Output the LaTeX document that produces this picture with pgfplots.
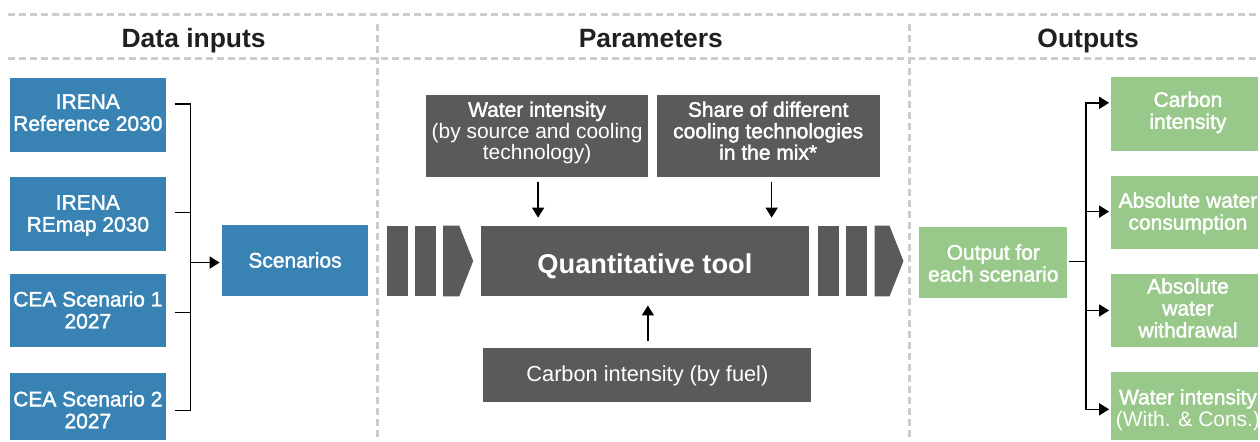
\documentclass[border=0pt]{standalone}
\usepackage{pgfplots}
\pgfplotsset{compat=1.18}
\usetikzlibrary{arrows.meta}
\usepackage{fontspec}
\setmainfont{Liberation Sans}
\newfontfamily\medfont[FakeBold=1.8]{Liberation Sans}
\definecolor{irblue}{RGB}{56,131,180}
\definecolor{irgray}{RGB}{88,90,91}
\definecolor{irgreen}{RGB}{153,201,138}
\definecolor{dashgray}{RGB}{205,205,205}
\definecolor{titlecol}{RGB}{35,31,32}
\newcommand{\Ln}[4]{\node[anchor=base, inner sep=0pt, text=white, font=#4] at (#1,#2) {#3};}
\newcommand{\fR}{\fontsize{21bp}{22bp}\selectfont}
\newcommand{\fM}{\medfont\fontsize{21bp}{22bp}\selectfont}
\begin{document}
\begin{tikzpicture}
\begin{axis}[scale only axis, width=1260bp, height=441bp,
  xmin=0, xmax=1260, ymin=0, ymax=441, y dir=reverse,
  hide axis, clip=false]
\path (0,0) rectangle (1260,441);
% dashed frame lines
\draw[dashgray, line width=3bp, dash pattern=on 7bp off 4bp] (8,15) -- (1260,15);
\draw[dashgray, line width=3bp, dash pattern=on 7bp off 4bp] (8,59) -- (1260,59);
\draw[dashgray, line width=3bp, dash pattern=on 7bp off 4bp] (378,24) -- (378,441);
\draw[dashgray, line width=3bp, dash pattern=on 7bp off 4bp] (911,24) -- (911,441);
% titles
\node[anchor=base, inner sep=0pt, text=titlecol, font=\fontsize{26.5bp}{28bp}\selectfont\bfseries] at (194,48) {Data inputs};
\node[anchor=base, inner sep=0pt, text=titlecol, font=\fontsize{26.5bp}{28bp}\selectfont\bfseries] at (652,48) {Parameters};
\node[anchor=base, inner sep=0pt, text=titlecol, font=\fontsize{26.5bp}{28bp}\selectfont\bfseries] at (1090,48) {Outputs};
% blue boxes
\fill[irblue] (10,78) rectangle (166,152);
\fill[irblue] (10,177) rectangle (166,251);
\fill[irblue] (10,274) rectangle (166,348);
\fill[irblue] (10,374) rectangle (166,441);
\fill[irblue] (222,225) rectangle (369,297);
\Ln{88}{109}{IRENA}{\fM}
\Ln{88}{131}{Reference 2030}{\fM}
\Ln{88}{210}{IRENA}{\fM}
\Ln{88}{232}{REmap 2030}{\fM}
\Ln{88}{307}{CEA Scenario 1}{\fM}
\Ln{88}{329}{2027}{\fM}
\Ln{88}{407}{CEA Scenario 2}{\fM}
\Ln{88}{429}{2027}{\fM}
\Ln{295.5}{268}{Scenarios}{\fM}
% left bracket
\draw[black, line width=1.6bp] (175,104) -- (191,104) -- (191,411) -- (175,411);
\draw[black, line width=1.6bp] (175,213) -- (191,213);
\draw[black, line width=1.6bp] (175,313) -- (191,313);
\draw[black, line width=1.6bp, -{Triangle[length=10bp,width=12bp]}] (191,263) -- (220,263);
% parameter boxes
\fill[irgray] (427,95) rectangle (649,177);
\fill[irgray] (658,95) rectangle (881,177);
\Ln{538}{117}{Water intensity}{\fM}
\Ln{538}{138.5}{(by source and cooling}{\fR}
\Ln{538}{160}{technology)}{\fR}
\Ln{769.5}{117}{Share of different}{\fM}
\Ln{769.5}{138.5}{cooling technologies}{\fM}
\Ln{769.5}{160}{in the mix*}{\fM}
\draw[black, line width=1.6bp, -{Triangle[length=10bp,width=12bp]}] (539,182) -- (539,218);
\draw[black, line width=1.6bp, -{Triangle[length=10bp,width=12bp]}] (773,182) -- (773,218);
% chevrons
\fill[irgray] (388,226) rectangle (409,297);
\fill[irgray] (416,226) rectangle (437,297);
\fill[irgray] (444,226) -- (460,226) -- (474,261.5) -- (460,297) -- (444,297) -- cycle;
\fill[irgray] (482,226) rectangle (810,297);
\fill[irgray] (819,226) rectangle (840,297);
\fill[irgray] (847,226) rectangle (868,297);
\fill[irgray] (876,226) -- (891,226) -- (905,261.5) -- (891,297) -- (876,297) -- cycle;
\Ln{646}{274}{Quantitative tool}{\fontsize{27.3bp}{29bp}\selectfont\bfseries}
% carbon intensity box
\fill[irgray] (484,349) rectangle (812,403);
\Ln{648.5}{382}{Carbon intensity (by fuel)}{\fontsize{21.8bp}{23bp}\selectfont}
\draw[black, line width=1.6bp, -{Triangle[length=10bp,width=12bp]}] (649,342) -- (649,306);
% outputs
\fill[irgreen] (921,227) rectangle (1069,299);
\Ln{995}{260}{Output for}{\fM}
\Ln{995}{282}{each scenario}{\fM}
\fill[irgreen] (1113,77) rectangle (1260,151);
\fill[irgreen] (1113,176) rectangle (1260,249);
\fill[irgreen] (1113,274) rectangle (1260,348);
\fill[irgreen] (1113,373) rectangle (1260,441);
\Ln{1190}{107}{Carbon}{\fM}
\Ln{1190}{129}{intensity}{\fM}
\Ln{1190}{208}{Absolute water}{\fM}
\Ln{1190}{230}{consumption}{\fM}
\Ln{1190}{294}{Absolute}{\fM}
\Ln{1190}{316}{water}{\fM}
\Ln{1190}{338}{withdrawal}{\fM}
\Ln{1190}{405}{Water intensity}{\fM}
\Ln{1190}{427}{(With. \& Cons.)}{\fR}
% right bracket
\draw[black, line width=1.6bp] (1071,262) -- (1088,262);
\draw[black, line width=1.6bp] (1088,103) -- (1088,410);
\draw[black, line width=1.6bp, -{Triangle[length=10bp,width=12bp]}] (1087.2,103) -- (1111,103);
\draw[black, line width=1.6bp, -{Triangle[length=10bp,width=12bp]}] (1088,212) -- (1111,212);
\draw[black, line width=1.6bp, -{Triangle[length=10bp,width=12bp]}] (1088,311) -- (1111,311);
\draw[black, line width=1.6bp, -{Triangle[length=10bp,width=12bp]}] (1087.2,410) -- (1111,410);
\end{axis}
\end{tikzpicture}
\end{document}
